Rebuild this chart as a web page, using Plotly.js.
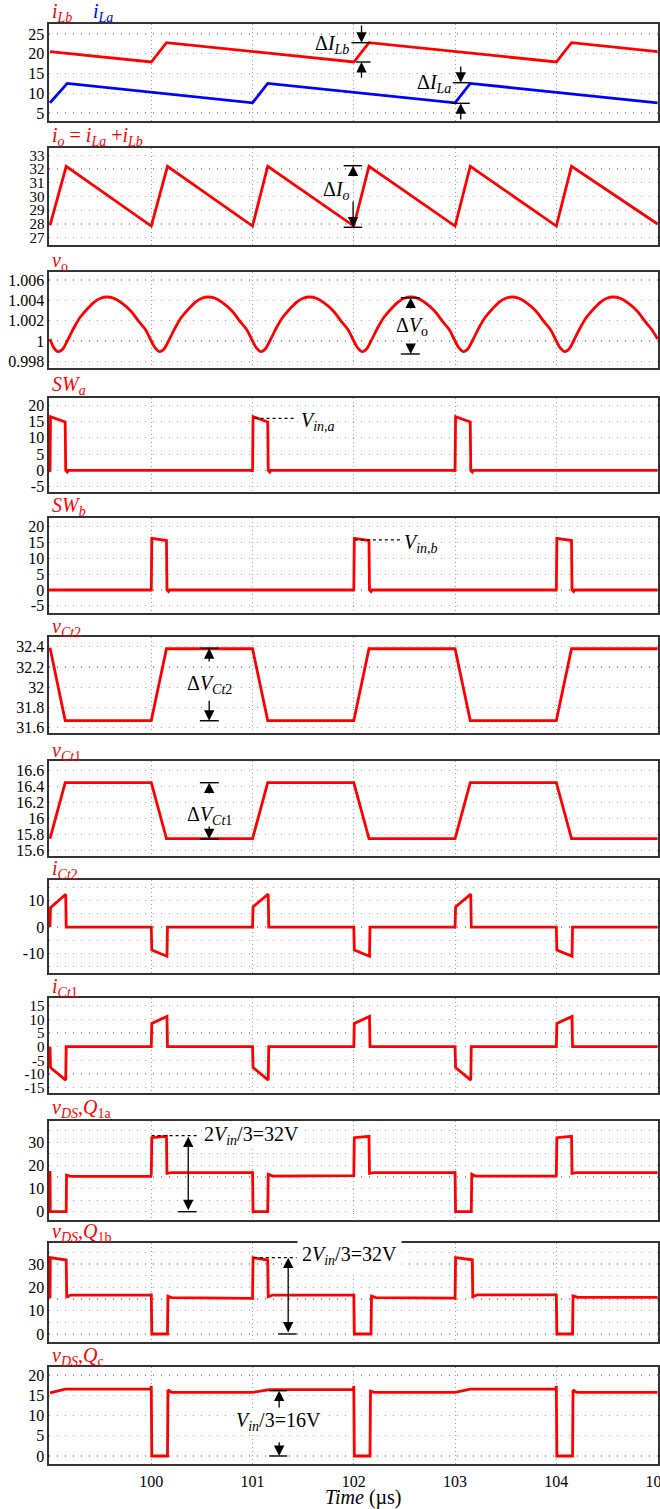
<!DOCTYPE html>
<html><head><meta charset="utf-8">
<script src="https://cdn.plot.ly/plotly-3.0.1.min.js"></script>
<style>html,body{margin:0;padding:0;background:#fff}</style>
</head><body><div id="chart" style="width:660px;height:1509px"></div>
<script>
// ---------------- DATA ----------------
const timeTicks = [100, 101, 102, 103, 104, 105];
const timeTickText = ['100', '101', '102', '103', '104', '105'];

const iLb_t = [99.0, 100.0, 100.15, 102.0, 102.15, 104.0, 104.15, 105.0];
const iLb_v = [20.5, 17.9, 22.8, 17.9, 22.8, 17.9, 22.8, 20.5];
const iLa_t = [99.0, 99.17, 101.0, 101.15, 103.0, 103.15, 105.0];
const iLa_v = [7.6, 12.5, 7.6, 12.5, 7.6, 12.5, 7.6];

const io_t = [99.0, 99.16, 100.0, 100.16, 101.0, 101.15, 102.0, 102.15, 103.0, 103.15, 104.0, 104.15, 105.0];
const io_v = [27.9, 32.2, 27.85, 32.2, 27.85, 32.2, 27.85, 32.2, 27.85, 32.2, 27.85, 32.2, 28.0];

const vo_t = [
  99.00, 99.04, 99.08, 99.12, 99.17, 99.24, 99.30, 99.37, 99.44, 99.50, 99.56, 99.63, 99.71, 99.80, 99.88, 99.94,
  100.00, 100.04, 100.08, 100.12, 100.17, 100.24, 100.30, 100.37, 100.44, 100.50, 100.56, 100.63, 100.71, 100.80, 100.88, 100.94,
  101.00, 101.04, 101.08, 101.12, 101.17, 101.24, 101.30, 101.37, 101.44, 101.50, 101.56, 101.63, 101.71, 101.80, 101.88, 101.94,
  102.00, 102.04, 102.08, 102.12, 102.17, 102.24, 102.30, 102.37, 102.44, 102.50, 102.56, 102.63, 102.71, 102.80, 102.88, 102.94,
  103.00, 103.04, 103.08, 103.12, 103.17, 103.24, 103.30, 103.37, 103.44, 103.50, 103.56, 103.63, 103.71, 103.80, 103.88, 103.94,
  104.00, 104.04, 104.08, 104.12, 104.17, 104.24, 104.30, 104.37, 104.44, 104.50, 104.56, 104.63, 104.71, 104.80, 104.88, 104.94,
  105.00];
const vo_v = [
  1.00020, 0.99930, 0.99895, 0.99915, 1.00000, 1.00138, 1.00236, 1.00318, 1.00386, 1.00421, 1.00433, 1.00420, 1.00372, 1.00293, 1.00187, 1.00115,
  1.00000, 0.99930, 0.99895, 0.99915, 1.00000, 1.00138, 1.00236, 1.00318, 1.00386, 1.00421, 1.00433, 1.00420, 1.00372, 1.00293, 1.00187, 1.00115,
  1.00000, 0.99930, 0.99895, 0.99915, 1.00000, 1.00138, 1.00236, 1.00318, 1.00386, 1.00421, 1.00433, 1.00420, 1.00372, 1.00293, 1.00187, 1.00115,
  1.00000, 0.99930, 0.99895, 0.99915, 1.00000, 1.00138, 1.00236, 1.00318, 1.00386, 1.00421, 1.00433, 1.00420, 1.00372, 1.00293, 1.00187, 1.00115,
  1.00000, 0.99930, 0.99895, 0.99915, 1.00000, 1.00138, 1.00236, 1.00318, 1.00386, 1.00421, 1.00433, 1.00420, 1.00372, 1.00293, 1.00187, 1.00115,
  1.00000, 0.99930, 0.99895, 0.99915, 1.00000, 1.00138, 1.00236, 1.00318, 1.00386, 1.00421, 1.00433, 1.00420, 1.00372, 1.00293, 1.00187, 1.00115,
  1.00020];

const SWa_t = [98.99, 99.0, 99.005, 99.15, 99.155, 99.17, 99.18, 100.995, 101.0, 101.005, 101.15, 101.155, 101.17, 101.18, 102.995, 103.0, 103.005, 103.15, 103.155, 103.17, 103.18, 105.0];
const SWa_v = [0, -0.3, 16.5, 14.9, 0, -0.5, 0, 0, -0.4, 16.5, 14.9, 0, -0.5, 0, 0, -0.4, 16.5, 14.9, 0, -0.5, 0, 0];

const SWb_t = [98.99, 99.995, 100.0, 100.005, 100.15, 100.155, 100.17, 100.18, 101.995, 102.0, 102.005, 102.15, 102.155, 102.17, 102.18, 103.995, 104.0, 104.005, 104.15, 104.155, 104.17, 104.18, 105.0];
const SWb_v = [0, 0, -0.4, 16.3, 15.6, 0, -0.5, 0, 0, -0.4, 16.3, 15.6, 0, -0.5, 0, 0, -0.4, 16.3, 15.6, 0, -0.5, 0, 0];

const vCt_t = [99.0, 99.15, 100.0, 100.15, 101.0, 101.15, 102.0, 102.15, 103.0, 103.15, 104.0, 104.15, 105.0];
const vCt2_v = [32.39, 31.67, 31.67, 32.38, 32.38, 31.67, 31.67, 32.38, 32.38, 31.67, 31.67, 32.38, 32.38];
const vCt1_v = [15.75, 16.45, 16.45, 15.75, 15.75, 16.45, 16.45, 15.75, 15.75, 16.45, 16.45, 15.75, 15.75];

const iCt_t = [99.0, 99.005, 99.155, 99.16, 100.0, 100.005, 100.155, 100.16, 101.0, 101.005, 101.155, 101.16, 102.0, 102.005, 102.155, 102.16, 103.0, 103.005, 103.155, 103.16, 104.0, 104.005, 104.155, 104.16, 105.0];
const iCt2_v = [0, 7.4, 12.5, 0, 0, -8.8, -11.1, 0, 0, 7.7, 12.5, 0, 0, -8.8, -11.1, 0, 0, 7.7, 12.5, 0, 0, -8.8, -11.1, 0, 0];
const iCt1_v = [0, -7.6, -12.2, 0, 0, 8.5, 11.1, 0, 0, -7.6, -12.2, 0, 0, 8.5, 11.1, 0, 0, -7.6, -12.2, 0, 0, 8.5, 11.1, 0, 0];

const Q1a_t = [99.0, 99.003, 99.16, 99.163, 99.2, 99.995, 100.0, 100.005, 100.15, 100.155, 100.2, 100.995, 101.0, 101.005, 101.15, 101.155, 101.2, 101.995, 102.0, 102.005, 102.15, 102.155, 102.2, 102.995, 103.0, 103.005, 103.16, 103.165, 103.2, 103.995, 104.0, 104.005, 104.15, 104.155, 104.2, 105.0];
const Q1a_v = [17.6, 0, 0, 15.8, 15.3, 15.3, 16.2, 32.0, 32.6, 16.6, 16.9, 16.9, 17.5, 0, 0, 16.2, 15.4, 15.4, 15.6, 32.0, 32.6, 16.6, 16.9, 16.9, 17.5, 0, 0, 16.2, 15.4, 15.4, 15.6, 32.0, 32.6, 16.6, 16.9, 16.9];

const Q1b_t = [99.0, 99.003, 99.16, 99.165, 99.2, 99.995, 100.0, 100.005, 100.16, 100.165, 100.2, 100.995, 101.0, 101.005, 101.15, 101.155, 101.2, 101.995, 102.0, 102.005, 102.17, 102.175, 102.22, 102.995, 103.0, 103.005, 103.17, 103.175, 103.22, 103.995, 104.0, 104.005, 104.16, 104.165, 104.21, 105.0];
const Q1b_v = [15.3, 32.7, 31.7, 15.7, 16.7, 16.7, 17.3, 0, 0, 16.2, 15.6, 15.5, 15.3, 32.7, 31.7, 16.0, 16.7, 16.8, 17.2, 0, 0, 16.2, 15.6, 15.4, 15.3, 32.7, 31.8, 16.0, 16.8, 16.8, 17.2, 0, 0, 16.3, 15.7, 15.7];

const Qc_t = [99.0, 99.15, 99.995, 100.0, 100.005, 100.16, 100.165, 100.2, 101.0, 101.17, 101.995, 102.0, 102.005, 102.16, 102.165, 102.2, 103.0, 103.15, 103.995, 104.0, 104.005, 104.16, 104.165, 104.2, 105.0];
const Qc_v = [15.6, 16.5, 16.5, 17.3, 0, 0, 16.3, 15.7, 15.7, 16.4, 16.4, 17.3, 0, 0, 16.0, 15.7, 15.7, 16.5, 16.5, 17.3, 0, 0, 16.3, 15.7, 15.7];

// y tick values / labels per panel (minor = extra dotted grid lines)
const ticks1 = [5, 10, 15, 20, 25];
const ticks1Text = ['5', '10', '15', '20', '25'];
const ticks2 = [27, 28, 29, 30, 31, 32, 33];
const ticks2Text = ['27', '28', '29', '30', '31', '32', '33'];
const ticks3 = [0.998, 1, 1.002, 1.004, 1.006];
const ticks3Text = ['0.998', '1', '1.002', '1.004', '1.006'];
const ticksSW = [-5, 0, 5, 10, 15, 20];
const ticksSWText = ['-5', '0', '5', '10', '15', '20'];
const ticks6 = [31.6, 31.8, 32, 32.2, 32.4];
const ticks6Text = ['31.6', '31.8', '32', '32.2', '32.4'];
const ticks7 = [15.6, 15.8, 16, 16.2, 16.4, 16.6];
const ticks7Text = ['15.6', '15.8', '16', '16.2', '16.4', '16.6'];
const ticks8 = [-10, 0, 10];
const ticks8Text = ['-10', '0', '10'];
const ticks8Minor = [-15, -5, 5, 15];
const ticks9 = [-15, -10, -5, 0, 5, 10, 15];
const ticks9Text = ['-15', '-10', '-5', '0', '5', '10', '15'];
const ticksQ = [0, 10, 20, 30];
const ticksQText = ['0', '10', '20', '30'];
const ticksQMinor = [5, 15, 25, 35];
const ticks12 = [0, 5, 10, 15, 20];
const ticks12Text = ['0', '5', '10', '15', '20'];

// ---------------- LAYOUT ----------------
const W = 660, H = 1509, PL = 49, PR = 658;
const RED = '#ff0000', BLUE = '#0000ff';
const FONT = 'Liberation Serif, Times New Roman, serif';
const GRID = '#a0a0a0';

const panels = [
  {top: 24,   bot: 121,  range: [3, 27.5],          tv: ticks1, tt: ticks1Text},
  {top: 148,  bot: 245,  range: [26.47, 33.53],     tv: ticks2, tt: ticks2Text, fs: 15},
  {top: 272,  bot: 368,  range: [0.99734, 1.00679], tv: ticks3, tt: ticks3Text},
  {top: 398,  bot: 492,  range: [-6.63, 22.24],     tv: ticksSW, tt: ticksSWText},
  {top: 518,  bot: 613,  range: [-7.26, 22.71],     tv: ticksSW, tt: ticksSWText},
  {top: 637,  bot: 733,  range: [31.548, 32.496],   tv: ticks6, tt: ticks6Text},
  {top: 761,  bot: 856,  range: [15.534, 16.721],   tv: ticks7, tt: ticks7Text},
  {top: 880,  bot: 973,  range: [-17.5, 17.9],      tv: ticks8, tt: ticks8Text, minor: ticks8Minor},
  {top: 998,  bot: 1093, range: [-16.94, 17.82],    tv: ticks9, tt: ticks9Text, fs: 15},
  {top: 1121, bot: 1220, range: [-3.59, 39.2],      tv: ticksQ, tt: ticksQText, minor: ticksQMinor},
  {top: 1243, bot: 1342, range: [-3.43, 39.0],      tv: ticksQ, tt: ticksQText, minor: ticksQMinor},
  {top: 1367, bot: 1464, range: [-1.98, 21.98],     tv: ticks12, tt: ticks12Text}
];

const layout = {
  width: W, height: H,
  margin: {l: PL, r: W - PR, t: 0, b: 0},
  paper_bgcolor: '#fff', plot_bgcolor: '#fff',
  showlegend: false,
  font: {family: FONT, size: 16, color: '#000'},
  annotations: [], shapes: []
};

panels.forEach((p, i) => {
  const n = i + 1, sfx = n === 1 ? '' : String(n);
  layout['xaxis' + sfx] = {
    domain: [0, 1], anchor: 'y' + sfx, range: [98.99, 105.004],
    tickmode: 'array', tickvals: timeTicks, ticktext: timeTickText,
    showticklabels: n === 12, ticks: '', ticklabelstandoff: 2, ticklabeloverflow: 'allow',
    tickfont: {family: FONT, size: 16, color: '#000'},
    showgrid: true, gridcolor: GRID, griddash: '1px,3px', gridwidth: 1,
    zeroline: false, showline: true, mirror: true, linecolor: '#333', linewidth: 1.6,
    fixedrange: true
  };
  if (n > 1) layout['xaxis' + sfx].matches = 'x';
  const ya = {
    domain: [1 - p.bot / H, 1 - p.top / H], anchor: 'x' + sfx, range: p.range,
    tickmode: 'array', tickvals: p.tv, ticktext: p.tt, ticks: '',
    tickfont: {family: FONT, size: p.fs || 16, color: '#000'},
    showgrid: true, gridcolor: GRID, griddash: '1px,7px', gridwidth: 1.2,
    zeroline: false, showline: true, mirror: true, linecolor: '#333', linewidth: 1.6,
    fixedrange: true
  };
  if (p.minor) {
    ya.minor = {tickmode: 'array', tickvals: p.minor, ticks: '', showgrid: true,
                gridcolor: GRID, griddash: '1px,7px', gridwidth: 1.2};
  }
  layout['yaxis' + sfx] = ya;
});

function ax(n) { return n === 1 ? '' : String(n); }
function trace(n, t, v, color, shape) {
  return {x: t, y: v, type: 'scatter', mode: 'lines', xaxis: 'x' + ax(n), yaxis: 'y' + ax(n),
          line: {color: color, width: 2.8, shape: shape || 'linear', smoothing: 1.0}, hoverinfo: 'skip'};
}
const data = [
  trace(1, iLb_t, iLb_v, RED), trace(1, iLa_t, iLa_v, BLUE),
  trace(2, io_t, io_v, RED),
  trace(3, vo_t, vo_v, RED, 'spline'),
  trace(4, SWa_t, SWa_v, RED),
  trace(5, SWb_t, SWb_v, RED),
  trace(6, vCt_t, vCt2_v, RED),
  trace(7, vCt_t, vCt1_v, RED),
  trace(8, iCt_t, iCt2_v, RED),
  trace(9, iCt_t, iCt1_v, RED),
  trace(10, Q1a_t, Q1a_v, RED),
  trace(11, Q1b_t, Q1b_v, RED),
  trace(12, Qc_t, Qc_v, RED)
];

// panel titles (pixel positions)
const px2x = px => (px - PL) / (PR - PL);
const py2y = py => 1 - py / H;
function label(text, px, py, color, size) {
  layout.annotations.push({text: text, xref: 'paper', yref: 'paper', x: px2x(px), y: py2y(py),
    xanchor: 'left', yanchor: 'middle', showarrow: false, borderpad: 0,
    font: {family: FONT, size: size || 20, color: color || RED}});
}
label('<i>i</i><sub><i>Lb</i></sub>', 51, 13);
label('<i>i</i><sub><i>La</i></sub>', 92, 13, BLUE);
label('<i>i</i><sub><i>o</i></sub> = <i>i</i><sub><i>La</i></sub> +<i>i</i><sub><i>Lb</i></sub>', 51, 137);
label('<i>v</i><sub>o</sub>', 51, 261);
label('<i>SW</i><sub><i>a</i></sub>', 51, 385);
label('<i>SW</i><sub><i>b</i></sub>', 51, 507);
label('<i>v</i><sub><i>Ct</i>2</sub>', 51, 627);
label('<i>v</i><sub><i>Ct</i>1</sub>', 51, 752);
label('<i>i</i><sub><i>Ct</i>2</sub>', 51, 869);
label('<i>i</i><sub><i>Ct</i>1</sub>', 51, 987);
label('<i>v</i><sub><i>DS</i></sub>,<i>Q</i><sub>1a</sub>', 51, 1108);
label('<i>v</i><sub><i>DS</i></sub>,<i>Q</i><sub>1b</sub>', 51, 1232);
label('<i>v</i><sub><i>DS</i></sub>,<i>Q</i><sub>c</sub>', 51, 1356);
layout.annotations.push({text: '<i>Time</i> (µs)', xref: 'paper', yref: 'paper', x: px2x(363), y: py2y(1497),
  xanchor: 'center', yanchor: 'middle', showarrow: false, borderpad: 0,
  font: {family: FONT, size: 20, color: '#000'}});

// measurement annotations (data coordinates)
function hline(n, x0, x1, y, dash) {
  layout.shapes.push({type: 'line', xref: 'x' + ax(n), yref: 'y' + ax(n), x0: x0, x1: x1, y0: y, y1: y,
    line: {color: '#000', width: dash ? 1.2 : 1.4, dash: dash || 'solid'}});
}
function arrow(n, x, yFrom, yTo, both) {
  layout.annotations.push({text: '', xref: 'x' + ax(n), yref: 'y' + ax(n), axref: 'x' + ax(n), ayref: 'y' + ax(n),
    x: x, y: yTo, ax: x, ay: yFrom, showarrow: true, arrowhead: 2, arrowsize: 1.6, arrowwidth: 1.3,
    arrowcolor: '#000', arrowside: both ? 'end+start' : 'end', startarrowhead: 2, startarrowsize: 1.6, standoff: 0, startstandoff: 0});
}
function note(n, text, x, y, anchor, bg, pad) {
  layout.annotations.push({text: text, xref: 'x' + ax(n), yref: 'y' + ax(n), x: x, y: y,
    xanchor: anchor || 'center', yanchor: 'middle', showarrow: false, bgcolor: bg || 'rgba(0,0,0,0)',
    borderpad: pad || 0, font: {family: FONT, size: 20, color: '#000'}});
}
// panel 1
hline(1, 101.977, 102.165, 22.78); hline(1, 102.02, 102.165, 17.9);
arrow(1, 102.076, 27.5, 22.78); arrow(1, 102.076, 13.53, 17.9);
note(1, 'Δ<i>I</i><sub><i>Lb</i></sub>', 101.965, 22.4, 'right');
hline(1, 102.977, 103.145, 12.67); hline(1, 102.964, 103.145, 7.47);
arrow(1, 103.056, 17.14, 12.67); arrow(1, 103.056, 3.0, 7.47);
note(1, 'Δ<i>I</i><sub><i>La</i></sub>', 102.965, 12.35, 'right');
// panel 2
hline(2, 101.90, 102.082, 32.24); hline(2, 101.90, 102.082, 27.76);
arrow(2, 101.993, 31.42, 32.24); arrow(2, 101.993, 29.75, 27.76);
note(2, 'Δ<i>I</i><sub><i>o</i></sub>', 101.83, 30.45);
// panel 3
hline(3, 102.464, 102.651, 1.00426); hline(3, 102.464, 102.651, 0.99872);
arrow(3, 102.562, 1.00305, 1.00426); arrow(3, 102.562, 0.9998, 0.99872);
note(3, 'Δ<i>V</i><sub>o</sub>', 102.575, 1.00147);
// panel 4/5
hline(4, 101.02, 101.435, 16.0, 'dot');
note(4, '<i>V</i><sub><i>in,a</i></sub>', 101.466, 14.9, 'left');
hline(5, 102.01, 102.46, 15.8, 'dot');
note(5, '<i>V</i><sub><i>in,b</i></sub>', 102.49, 14.8, 'left');
// panel 6/7
hline(6, 100.48, 100.667, 32.384); hline(6, 100.48, 100.667, 31.669);
arrow(6, 100.572, 32.239, 32.384); arrow(6, 100.572, 31.882, 31.669);
note(6, 'Δ<i>V</i><sub><i>Ct</i>2</sub>', 100.572, 32.022);
hline(7, 100.48, 100.667, 16.45); hline(7, 100.48, 100.667, 15.746);
arrow(7, 100.572, 16.296, 16.45); arrow(7, 100.572, 15.921, 15.746);
note(7, 'Δ<i>V</i><sub><i>Ct</i>1</sub>', 100.572, 16.046);
// panel 10/11
hline(10, 100.003, 100.448, 32.85, 'dot'); hline(10, 100.266, 100.448, 0);
arrow(10, 100.365, 0, 32.42, true);
note(10, '2<i>V</i><sub><i>in</i></sub>/3=32V', 100.507, 33.1, 'left', '#fff');
hline(11, 101.013, 101.435, 32.7, 'dot'); hline(11, 101.253, 101.435, 0);
arrow(11, 101.352, 0, 32.7, true);
note(11, '2<i>V</i><sub><i>in</i></sub>/3=32V', 101.437, 33.6, 'left', '#fff', 4);
// panel 12
hline(12, 101.164, 101.342, 16.12); hline(12, 101.164, 101.342, 0);
arrow(12, 101.263, 11.6, 16.12); arrow(12, 101.263, 3.78, 0);
note(12, '<i>V</i><sub><i>in</i></sub>/3=16V', 101.26, 8.47, 'center', '#fff');

Plotly.newPlot('chart', data, layout, {staticPlot: true, displayModeBar: false});
</script>
</body></html>
